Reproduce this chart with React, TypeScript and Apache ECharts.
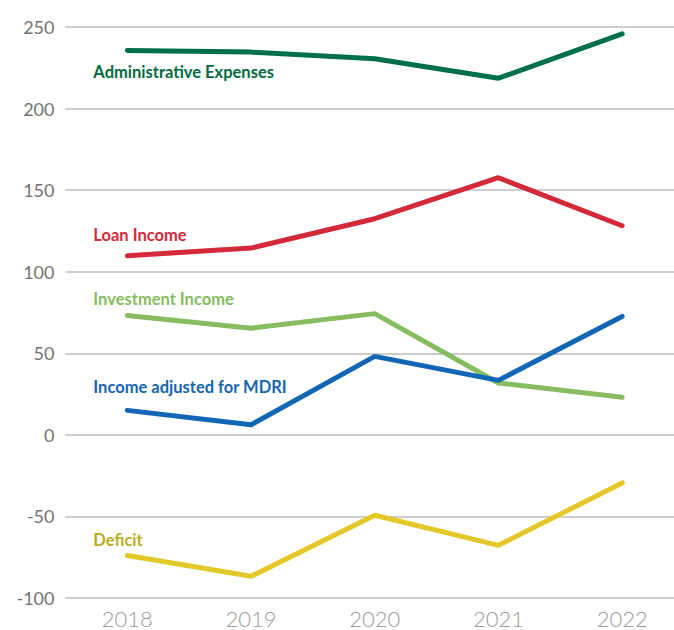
import React, { useEffect, useRef } from "react";
import * as echarts from "echarts";

const years = ["2018", "2019", "2020", "2021", "2022"];
const adminExpenses = [235.6, 234.6, 230.5, 218.6, 245.8];
const loanIncome = [109.8, 114.5, 132.5, 157.6, 128.2];
const investmentIncome = [73.2, 65.4, 74.3, 31.8, 23.0];
const incomeMDRI = [15.0, 6.2, 48.1, 33.4, 72.6];
const deficit = [-74.0, -86.7, -49.3, -67.7, -29.5];
const yTicks = { min: -100, max: 250, interval: 50 };

type S = { name: string; data: number[]; line: string; text: string; dy: number };
const seriesDefs: S[] = [
  { name: "Administrative Expenses", data: adminExpenses, line: "#00704A", text: "#006B3F", dy: 22 },
  { name: "Loan Income", data: loanIncome, line: "#D3293A", text: "#D3293A", dy: -21 },
  { name: "Investment Income", data: investmentIncome, line: "#88BC61", text: "#86BB5E", dy: -16 },
  { name: "Income adjusted for MDRI", data: incomeMDRI, line: "#1167B5", text: "#1465B2", dy: -23 },
  { name: "Deficit", data: deficit, line: "#E3C82A", text: "#B8AC22", dy: -16 },
];

export default function App() {
  const ref = useRef<HTMLDivElement>(null);
  useEffect(() => {
    document.body.style.margin = "0";
    document.body.style.overflow = "hidden";
    const chart = echarts.init(ref.current!, undefined, { renderer: "svg" });
    chart.setOption({
      animation: false,
      backgroundColor: "#ffffff",
      grid: { left: 65.5, right: 0, top: 27, bottom: 32, containLabel: false },
      xAxis: {
        type: "category",
        data: years,
        boundaryGap: true,
        axisLine: { show: false },
        axisTick: { show: false },
        axisLabel: {
          color: "#9B9B9B",
          fontSize: 22,
          fontFamily: "Lato",
          fontWeight: 300,
          margin: 9,
        },
      },
      yAxis: {
        type: "value",
        min: yTicks.min,
        max: yTicks.max,
        interval: yTicks.interval,
        axisLine: { show: false },
        axisTick: { show: false },
        axisLabel: {
          color: "#737373",
          fontSize: 18,
          fontFamily: "Lato",
          margin: 11,
        },
        splitLine: { lineStyle: { color: "#BDBDBD", width: 1.5 } },
      },
      series: seriesDefs.map((s) => ({
        name: s.name,
        type: "line",
        symbol: "circle",
        symbolSize: 0,
        showSymbol: true,
        lineStyle: { color: s.line, width: 5, cap: "round", join: "round" },
        itemStyle: { color: s.line },
        data: s.data.map((v, i) =>
          i === 0
            ? {
                value: v,
                label: {
                  show: true,
                  formatter: s.name,
                  position: "inside",
                  align: "left",
                  verticalAlign: "middle",
                  offset: [-34, s.dy],
                  color: s.text,
                  fontSize: 16.5,
                  fontWeight: "bold",
                  fontFamily: "Lato",
                },
              }
            : v
        ),
      })),
    });
    return () => chart.dispose();
  }, []);
  return (
    <div style={{ width: 674, height: 630, overflow: "hidden" }}>
      <div ref={ref} style={{ width: 684, height: 630 }} />
    </div>
  );
}
